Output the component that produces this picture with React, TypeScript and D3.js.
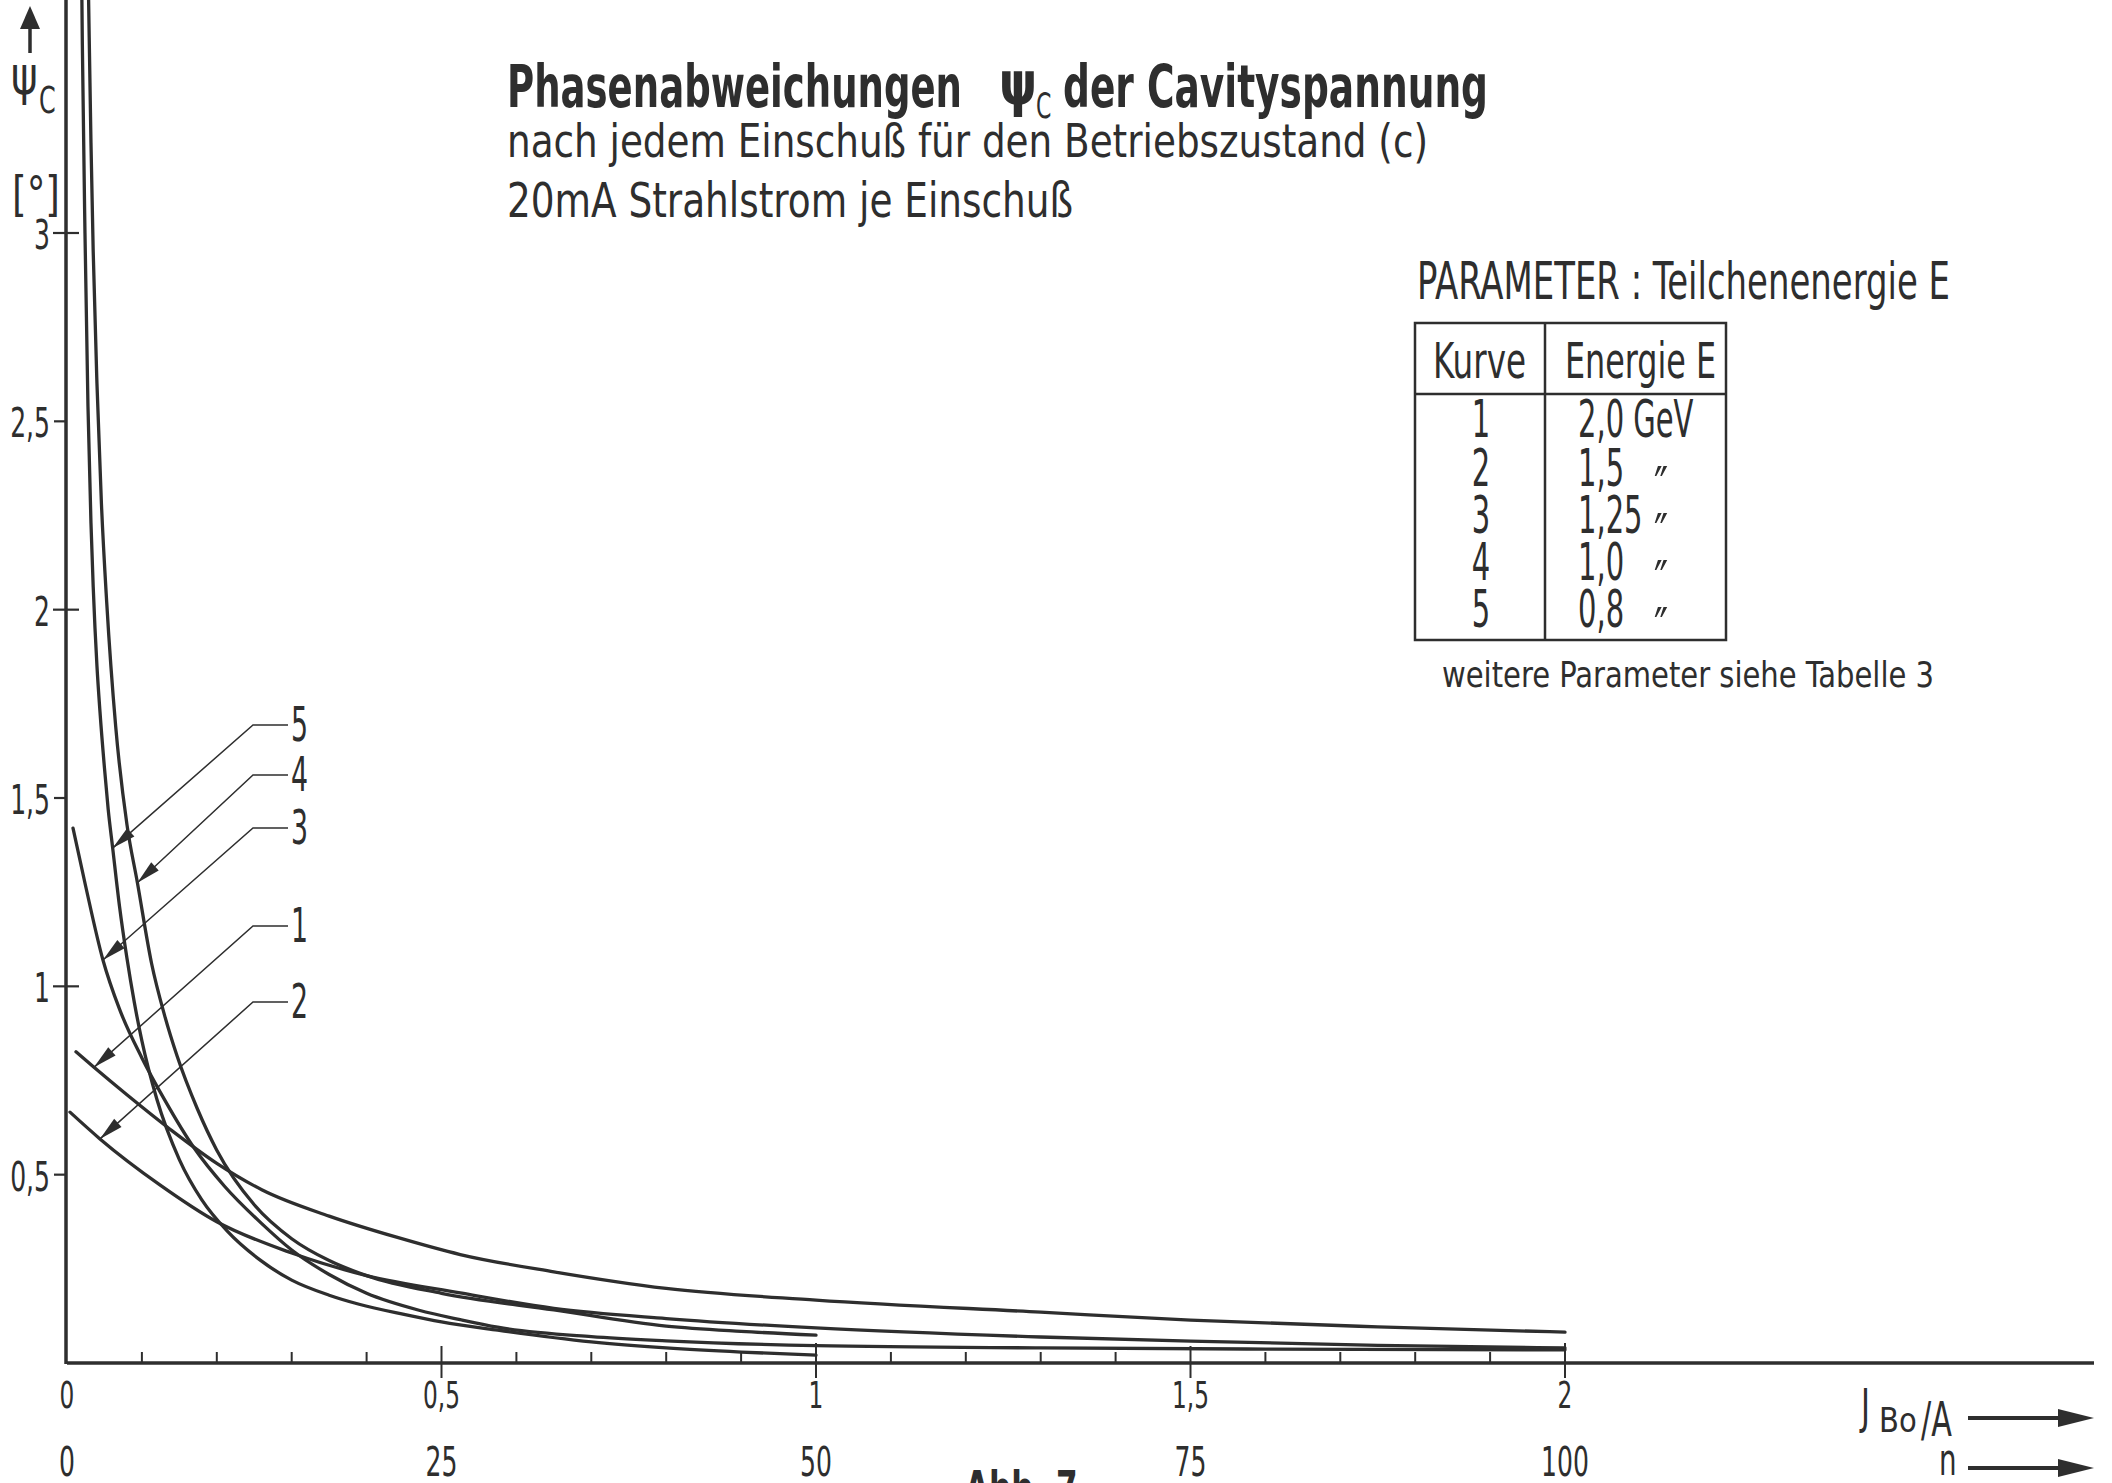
import React from 'react';
import * as d3 from 'd3';

const W = 2112;
const H = 1483;
const INK = '#2e2e2e';
const FONT = "'DejaVu Sans Condensed', 'DejaVu Sans', sans-serif";
const GREEK = "'DejaVu Sans', 'Noto Sans', sans-serif";

// psi_C [deg] against beam current J_Bo [A], one list of [J, psi] per curve
const curve1: [number, number][] = [
  [0.012, 0.826], [0.036, 0.785], [0.08, 0.712], [0.138, 0.62], [0.2, 0.53], [0.26, 0.46],
  [0.35, 0.39], [0.44, 0.334], [0.525, 0.288], [0.65, 0.242], [0.8, 0.198], [1.0, 0.167],
  [1.3, 0.135], [1.5, 0.114], [1.75, 0.096], [2.0, 0.082],
];
const curve2: [number, number][] = [
  [0.004, 0.666], [0.044, 0.595], [0.124, 0.473], [0.2, 0.375], [0.3, 0.292], [0.4, 0.232],
  [0.525, 0.186], [0.65, 0.145], [0.8, 0.118], [1.0, 0.093], [1.3, 0.069], [1.5, 0.058],
  [1.75, 0.047], [2.0, 0.04],
];
const curve3: [number, number][] = [
  [0.008, 1.42], [0.025, 1.265], [0.048, 1.07], [0.07, 0.94], [0.1, 0.81], [0.13, 0.7],
  [0.17, 0.57], [0.21, 0.47], [0.26, 0.37], [0.3, 0.3], [0.35, 0.235], [0.4, 0.185],
  [0.47, 0.14], [0.525, 0.115], [0.575, 0.095], [0.7, 0.07], [0.8, 0.059], [1.0, 0.046],
  [1.3, 0.04], [1.6, 0.037], [2.0, 0.035],
];
const curve4: [number, number][] = [
  [0.027, 3.85], [0.029, 3.6], [0.032, 3.24], [0.035, 2.95], [0.04, 2.6], [0.046, 2.28],
  [0.053, 2.02], [0.065, 1.69], [0.08, 1.43], [0.094, 1.275], [0.113, 1.06], [0.13, 0.925],
  [0.147, 0.815], [0.174, 0.675], [0.2, 0.565], [0.25, 0.42], [0.3, 0.33], [0.35, 0.272],
  [0.4, 0.232], [0.5, 0.185], [0.65, 0.141], [0.8, 0.098], [0.9, 0.084], [1.0, 0.074],
];
const curve5: [number, number][] = [
  [0.019, 3.79], [0.0205, 3.5], [0.024, 3.0], [0.028, 2.54], [0.032, 2.23], [0.035, 2.06],
  [0.04, 1.85], [0.044, 1.73], [0.05, 1.58], [0.055, 1.47], [0.061, 1.367], [0.07, 1.214],
  [0.08, 1.075], [0.09, 0.956], [0.1, 0.855], [0.12, 0.7], [0.15, 0.54], [0.18, 0.433],
  [0.214, 0.35], [0.258, 0.273], [0.3, 0.22], [0.35, 0.18], [0.39, 0.156], [0.45, 0.129],
  [0.5, 0.109], [0.575, 0.087], [0.7, 0.056], [0.8, 0.04], [0.9, 0.029], [1.0, 0.021],
];

const curveSeries: Record<string, [number, number][]> = {
  '1': curve1, '2': curve2, '3': curve3, '4': curve4, '5': curve5,
};

// curve labels, top to bottom, and the current at which each leader meets its curve
const labelNames = ['5', '4', '3', '1', '2'];
const labelTipJ = [0.061, 0.094, 0.048, 0.036, 0.044];

// axis ticks
const yTicks = [0.5, 1, 1.5, 2, 2.5, 3];
const yTickLabels = ['0,5', '1', '1,5', '2', '2,5', '3'];
const xMajor = [0, 0.5, 1, 1.5, 2];
const xTickLabels = ['0', '0,5', '1', '1,5', '2'];
const nTickLabels = ['0', '25', '50', '75', '100'];
const xMinor = d3.range(1, 20).filter((i) => i % 5 !== 0).map((i) => i / 10);

// parameter table
const kurveNr = ['1', '2', '3', '4', '5'];
const energie = ['2,0 GeV', '1,5', '1,25', '1,0', '0,8'];

const x = d3.scaleLinear().domain([0, 2]).range([67, 1565]);
const y = d3.scaleLinear().domain([0, 3]).range([1363, 233]);

const line = d3
  .line<[number, number]>()
  .x((d) => x(d[0]))
  .y((d) => y(d[1]))
  .curve(d3.curveMonotoneX);

// horizontally compressed text, for the narrow lettering of the drawing
function NT({
  x: tx, y: ty, sx = 0.7, size, anchor = 'start', weight, family, children,
}: {
  x: number; y: number; sx?: number; size: number; anchor?: 'start' | 'middle' | 'end';
  weight?: string; family?: string; children: React.ReactNode;
}) {
  return (
    <text
      transform={`translate(${tx},${ty}) scale(${sx},1)`}
      fontSize={size}
      textAnchor={anchor}
      fontWeight={weight}
      fontFamily={family}
    >
      {children}
    </text>
  );
}

function Arrowhead({ tx, ty, fx, fy, len = 24, half = 5.5 }: { tx: number; ty: number; fx: number; fy: number; len?: number; half?: number }) {
  const dx = fx - tx;
  const dy = fy - ty;
  const l = Math.hypot(dx, dy);
  const ux = dx / l;
  const uy = dy / l;
  const bx = tx + ux * len;
  const by = ty + uy * len;
  const pts = [
    [tx, ty],
    [bx - uy * half, by + ux * half],
    [bx + uy * half, by - ux * half],
  ];
  return <polygon points={pts.map((p) => p.join(',')).join(' ')} fill={INK} />;
}

export default function App() {
  const y0 = y(0);
  const rowBase = [437, 486, 533, 580, 627];
  const labelY = [725, 775, 828, 926, 1002];
  const elbowX = 253;
  const labelEndX = 288;

  return (
    <div style={{ position: 'absolute', left: 0, top: 0 }}>
      <svg width={W} height={H} viewBox={`0 0 ${W} ${H}`} style={{ display: 'block' }}>
        <rect width={W} height={H} fill="#fff" />

        {/* title */}
        <g fill={INK} fontFamily={FONT}>
          <text x={507} y={107} fontSize={58} fontWeight="bold" textLength={455} lengthAdjust="spacingAndGlyphs">Phasenabweichungen</text>
          <NT x={999} y={104} size={60} sx={0.8} weight="bold" family={GREEK}>ψ</NT>
          <NT x={1036} y={118} size={36} sx={0.68}>C</NT>
          <text x={1063} y={107} fontSize={58} fontWeight="bold" textLength={425} lengthAdjust="spacingAndGlyphs">der Cavityspannung</text>
          <text x={507} y={157} fontSize={47} textLength={921} lengthAdjust="spacingAndGlyphs">nach jedem Einschuß  für den Betriebszustand (c)</text>
          <text x={507} y={217} fontSize={48} textLength={566} lengthAdjust="spacingAndGlyphs">20mA Strahlstrom je Einschuß</text>
        </g>

        {/* parameter table */}
        <g fill={INK} fontFamily={FONT}>
          <text x={1417} y={299} fontSize={51} textLength={533} lengthAdjust="spacingAndGlyphs">PARAMETER : Teilchenenergie E</text>
          <rect x={1415} y={323} width={311} height={317} fill="none" stroke={INK} strokeWidth={2.5} />
          <line x1={1415} x2={1726} y1={394} y2={394} stroke={INK} strokeWidth={2.5} />
          <line x1={1545} x2={1545} y1={323} y2={640} stroke={INK} strokeWidth={2.5} />
          <text x={1433} y={378} fontSize={50} textLength={93} lengthAdjust="spacingAndGlyphs">Kurve</text>
          <text x={1565} y={378} fontSize={50} textLength={151} lengthAdjust="spacingAndGlyphs">Energie E</text>
          {kurveNr.map((k, i) => (
            <g key={k}>
              <NT x={1481} y={rowBase[i]} size={52} sx={0.62} anchor="middle">{k}</NT>
              <NT x={1578} y={rowBase[i]} size={52} sx={0.62}>{energie[i]}</NT>
              {i > 0 && <NT x={1654} y={rowBase[i] + 20} size={56} sx={0.75}>″</NT>}
            </g>
          ))}
          <text x={1442} y={687} fontSize={36} textLength={492} lengthAdjust="spacingAndGlyphs">weitere Parameter siehe Tabelle 3</text>
        </g>

        {/* y axis */}
        <g fill={INK} fontFamily={FONT}>
          <line x1={66} x2={66} y1={0} y2={y0 + 1} stroke={INK} strokeWidth={3.5} />
          {yTicks.map((t, i) => {
            const whole = Number.isInteger(t);
            return (
              <g key={t}>
                <line x1={whole ? 53 : 54} x2={whole ? 79 : 66} y1={y(t)} y2={y(t)} stroke={INK} strokeWidth={2.2} />
                <NT x={50} y={y(t) + 16} size={41} sx={0.68} anchor="end">{yTickLabels[i]}</NT>
              </g>
            );
          })}
          <line x1={30} x2={30} y1={53} y2={26} stroke={INK} strokeWidth={3.5} />
          <polygon points="30,6 20,29 40,29" fill={INK} />
          <NT x={11} y={94} size={54} sx={0.75} family={GREEK}>ψ</NT>
          <NT x={39} y={113} size={38} sx={0.7}>C</NT>
          <text x={12} y={211} fontSize={48} textLength={48} lengthAdjust="spacingAndGlyphs">[°]</text>
        </g>

        {/* x axis */}
        <g fill={INK} fontFamily={FONT}>
          <line x1={x(0)} x2={W - 18} y1={y0} y2={y0} stroke={INK} strokeWidth={3.5} />
          {xMinor.map((t) => (
            <line key={t} x1={x(t)} x2={x(t)} y1={y0} y2={y0 - 11} stroke={INK} strokeWidth={2} />
          ))}
          {xMajor.slice(1).map((t) => (
            <line key={t} x1={x(t)} x2={x(t)} y1={y0 - (t === 1 || t === 2 ? 20 : 17)} y2={y0 + 15} stroke={INK} strokeWidth={2} />
          ))}
          {xMajor.map((t, i) => (
            <g key={t}>
              <NT x={x(t)} y={1408} size={38} sx={0.68} anchor="middle">{xTickLabels[i]}</NT>
              <NT x={x(t)} y={1476} size={41} sx={0.68} anchor="middle">{nTickLabels[i]}</NT>
            </g>
          ))}
          <NT x={1861} y={1423} size={48} sx={0.7}>J</NT>
          <NT x={1879} y={1432} size={34} sx={0.95}>Bo</NT>
          <NT x={1921} y={1436} size={48} sx={0.7}>/A</NT>
          <line x1={1968} x2={2062} y1={1418} y2={1418} stroke={INK} strokeWidth={4} />
          <polygon points="2094,1418 2058,1409 2058,1427" fill={INK} />
          <NT x={1939} y={1475} size={44} sx={0.7}>n</NT>
          <line x1={1968} x2={2062} y1={1468} y2={1468} stroke={INK} strokeWidth={4} />
          <polygon points="2094,1468 2058,1459 2058,1477" fill={INK} />
          <NT x={965} y={1504} size={46} sx={0.75} weight="bold">Abb. 7</NT>
        </g>

        {/* curves */}
        <g fill="none" stroke={INK} strokeWidth={3.3} strokeLinecap="round" strokeLinejoin="round">
          {Object.entries(curveSeries).map(([id, data]) => (
            <path key={id} d={line(data) ?? ''} />
          ))}
        </g>

        {/* curve labels with leaders */}
        <g fontFamily={FONT} fill={INK}>
          {labelNames.map((name, i) => {
            const data = curveSeries[name];
            const pt = data.find((d) => d[0] === labelTipJ[i])!;
            const tx = x(pt[0]);
            const ty = y(pt[1]);
            const ly = labelY[i];
            return (
              <g key={name}>
                <polyline
                  points={`${tx},${ty} ${elbowX},${ly} ${labelEndX},${ly}`}
                  fill="none"
                  stroke={INK}
                  strokeWidth={1.5}
                />
                <Arrowhead tx={tx} ty={ty} fx={elbowX} fy={ly} />
                <NT x={291} y={ly + 16} size={48} sx={0.62}>{name}</NT>
              </g>
            );
          })}
        </g>
      </svg>
    </div>
  );
}
